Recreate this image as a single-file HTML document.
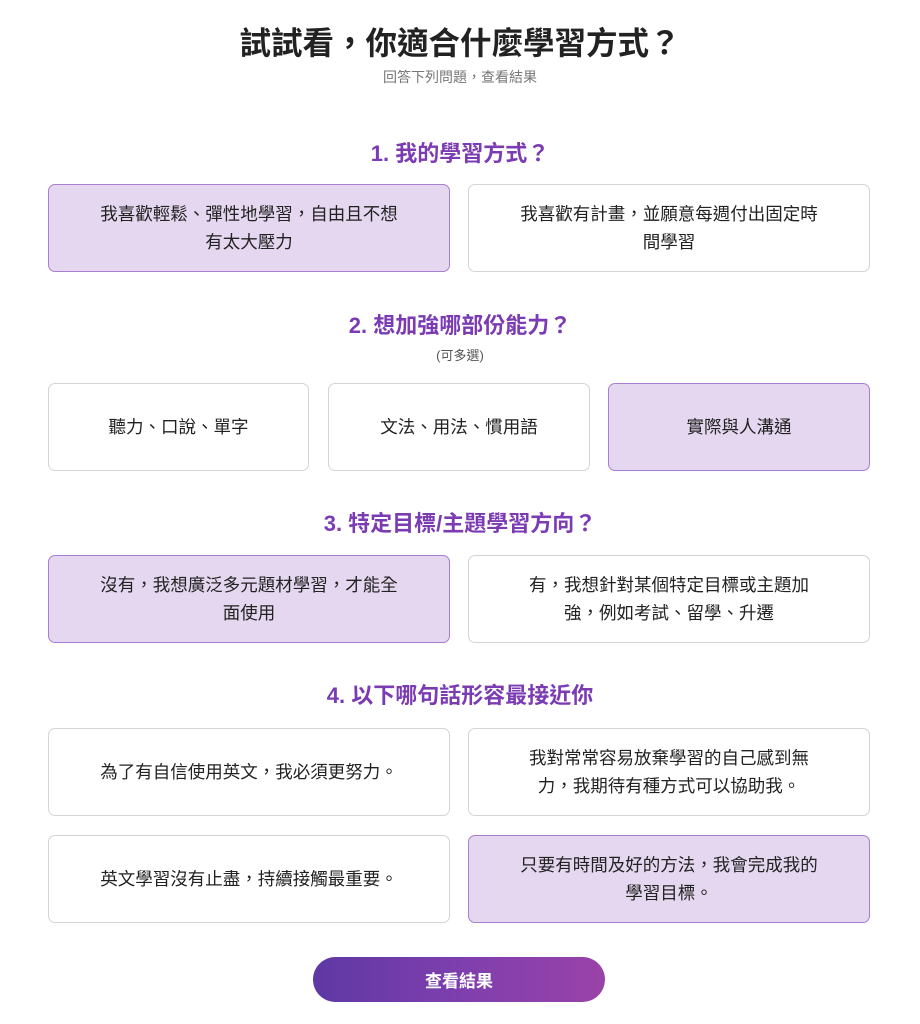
<!DOCTYPE html>
<html><head><meta charset="utf-8"><style>
body{margin:0;width:920px;height:1024px;background:#fff;font-family:"Liberation Sans","Noto Sans CJK TC",sans-serif;position:relative;overflow:hidden}
.a{position:absolute}
.t{left:0;width:920px;text-align:center}
.h{color:#7b3bb3;font-size:22px;font-weight:bold}
.b{position:absolute;box-sizing:border-box;border:1px solid #d4d4d4;border-radius:7px;display:flex;align-items:center;justify-content:center;text-align:center;font-size:17.5px;color:#222;line-height:28px;padding:0 44px}
.s{background:#e4d7ef;border-color:#a77ed0}
</style></head><body>
<div class="a t" style="top:18px;font-size:31.5px;font-weight:bold;color:#222">試試看，你適合什麼學習方式？</div>
<div class="a t" style="top:67px;font-size:14px;color:#777">回答下列問題，查看結果</div>
<div class="a t h" style="top:136px">1. 我的學習方式？</div>
<div class="b s" style="left:48px;top:184px;width:402px;height:88px">我喜歡輕鬆、彈性地學習，自由且不想有太大壓力</div>
<div class="b" style="left:468px;top:184px;width:402px;height:88px">我喜歡有計畫，並願意每週付出固定時間學習</div>
<div class="a t h" style="top:308px">2. 想加強哪部份能力？</div>
<div class="a t" style="top:345px;font-size:13px;color:#555">(可多選)</div>
<div class="b" style="left:48px;top:383px;width:261px;height:88px">聽力、口說、單字</div>
<div class="b" style="left:328px;top:383px;width:262px;height:88px">文法、用法、慣用語</div>
<div class="b s" style="left:608px;top:383px;width:262px;height:88px">實際與人溝通</div>
<div class="a t h" style="top:506px">3. 特定目標/主題學習方向？</div>
<div class="b s" style="left:48px;top:555px;width:402px;height:88px">沒有，我想廣泛多元題材學習，才能全面使用</div>
<div class="b" style="left:468px;top:555px;width:402px;height:88px">有，我想針對某個特定目標或主題加強，例如考試、留學、升遷</div>
<div class="a t h" style="top:678px">4. 以下哪句話形容最接近你</div>
<div class="b" style="left:48px;top:728px;width:402px;height:88px">為了有自信使用英文，我必須更努力。</div>
<div class="b" style="left:468px;top:728px;width:402px;height:88px">我對常常容易放棄學習的自己感到無力，我期待有種方式可以協助我。</div>
<div class="b" style="left:48px;top:835px;width:402px;height:88px">英文學習沒有止盡，持續接觸最重要。</div>
<div class="b s" style="left:468px;top:835px;width:402px;height:88px">只要有時間及好的方法，我會完成我的學習目標。</div>
<div class="a" style="left:313px;top:957px;width:292px;height:45px;border-radius:23px;background:linear-gradient(90deg,#5e38a3,#7e3fae 50%,#9a42a8);color:#fff;font-size:17px;font-weight:bold;display:flex;align-items:center;justify-content:center">查看結果</div>
</body></html>
